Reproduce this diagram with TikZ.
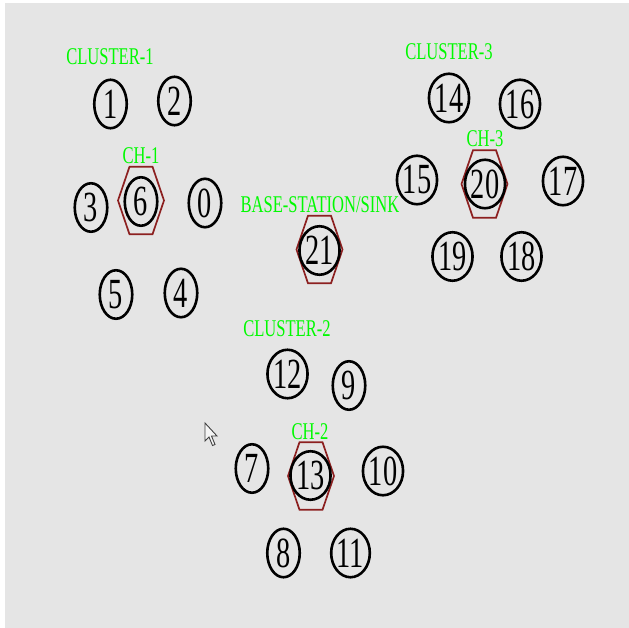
\documentclass[tikz,border=0pt]{standalone}
\usepackage{graphicx}
\usepackage{fontspec}
\setmainfont{Liberation Serif}
\usetikzlibrary{shapes.geometric}
\definecolor{bggray}{RGB}{229,229,229}
\definecolor{lblgreen}{RGB}{0,250,0}
\definecolor{hexred}{RGB}{140,32,32}
\newcommand\numtxt[1]{\scalebox{0.66}[1]{\fontsize{43}{43}\selectfont #1}}
\newcommand\grtxt[1]{\scalebox{0.69}[1]{\fontsize{24}{24}\selectfont #1}}
\begin{document}
\begin{tikzpicture}[x=1pt,y=-1pt,
  sensor/.style={ellipse, draw=black, line width=2.6pt, minimum width=32.5pt, minimum height=48.5pt, inner sep=0pt},
  lbl/.style={text=lblgreen, inner sep=0pt},
  hexline/.style={draw=hexred, line width=1.7pt},
  hexa/.pic={\draw[hexline] (-23,0) -- (-11.5,-33.8) -- (11.5,-33.8) -- (23,0) -- (11.5,33.8) -- (-11.5,33.8) -- cycle;}]
\useasboundingbox (0,0) rectangle (629,628);
\fill[white] (0,0) rectangle (629,628);
\fill[bggray] (5,3) rectangle (629,628);

% Cluster 1
\node[lbl] (c1) at (110,57) {\grtxt{CLUSTER-1}};
\node[lbl] (ch1) at (141,155.5) {\grtxt{CH-1}};
\node[sensor] (n1) at (110.5,104) {\numtxt{1}};
\node[sensor] (n2) at (174.5,101) {\numtxt{2}};
\node[sensor] (n3) at (91,207.5) {\numtxt{3}};
\path (141,200.5) pic {hexa};
\node[sensor] (n6) at (141,201.5) {\numtxt{6}};
\node[sensor] (n0) at (205,203) {\numtxt{0}};
\node[sensor] (n5) at (116,294.5) {\numtxt{5}};
\node[sensor] (n4) at (181,293) {\numtxt{4}};

% Base station
\node[lbl] (bs) at (320,204.5) {\grtxt{BASE-STATION/SINK}};
\path (319.5,249.5) pic {hexa};
\node[sensor] (n21) at (319.5,250.5) {\numtxt{21}};

% Cluster 3
\node[lbl] (c3) at (449,51.5) {\grtxt{CLUSTER-3}};
\node[lbl] (ch3) at (485,138.5) {\grtxt{CH-3}};
\node[sensor] (n14) at (449,98) {\numtxt{14}};
\node[sensor] (n16) at (520,104) {\numtxt{16}};
\node[sensor] (n15) at (417,180) {\numtxt{15}};
\path (484.5,184) pic {hexa};
\node[sensor] (n20) at (485,184) {\numtxt{20}};
\node[sensor] (n17) at (563,181) {\numtxt{17}};
\node[sensor] (n19) at (452.5,256.5) {\numtxt{19}};
\node[sensor] (n18) at (521.5,256.5) {\numtxt{18}};

% Cluster 2
\node[lbl] (c2) at (287,328.5) {\grtxt{CLUSTER-2}};
\node[lbl] (ch2) at (310,431.5) {\grtxt{CH-2}};
\node[sensor] (n12) at (287.5,374) {\numtxt{12}};
\node[sensor] (n9) at (349,385.5) {\numtxt{9}};
\node[sensor] (n7) at (252,468.5) {\numtxt{7}};
\path (311,476) pic {hexa};
\node[sensor] (n13) at (310.5,475.5) {\numtxt{13}};
\node[sensor] (n10) at (383,471) {\numtxt{10}};
\node[sensor] (n8) at (283.5,553) {\numtxt{8}};
\node[sensor] (n11) at (350.5,553) {\numtxt{11}};

% mouse cursor
\draw[fill=white!92!gray, draw=gray!50!black, line width=0.9pt, line join=miter]
  (205,423) -- (205,441) -- (209,437) -- (212.5,445.5) -- (215,444.5) -- (211.5,436) -- (217,436) -- cycle;
\end{tikzpicture}
\end{document}
